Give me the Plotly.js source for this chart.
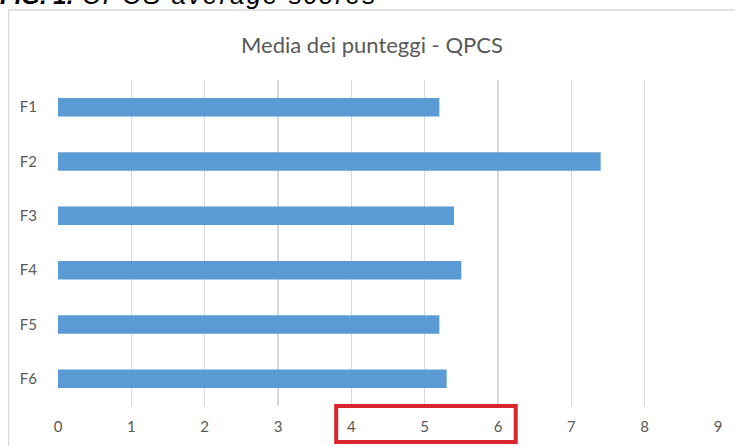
<!DOCTYPE html>
<html>
<head>
<meta charset="utf-8">
<script src="https://cdn.plot.ly/plotly-3.0.1.min.js"></script>
<style>
  html, body { margin: 0; padding: 0; background: #ffffff; overflow: hidden; }
  #wrap { position: relative; width: 735px; height: 446px; }
  #chart { position: absolute; left: 0; top: 0; width: 735px; height: 446px; }
  #caption {
    position: absolute; left: 0px; top: -20px; white-space: nowrap;
    font-family: "Liberation Sans", Arial, sans-serif; font-size: 24px;
    font-style: italic; color: #000000;
  }
  #caption b { font-weight: bold; }
  #caption span { font-size: 26px; letter-spacing: 2px; margin-left: 2px; }
</style>
</head>
<body>
<div id="wrap">
  <div id="chart"></div>
  <div id="caption"><b>FIG. 1.</b> <span>CPCS average scores</span></div>
</div>
<script>
// Mean scores per factor (QPCS questionnaire)
const factors = ["F1", "F2", "F3", "F4", "F5", "F6"];
const meanScores = [5.2, 7.4, 5.4, 5.5, 5.2, 5.3];
const xTicks = [0, 1, 2, 3, 4, 5, 6, 7, 8, 9];

const labelFont = { family: "Lato, 'Open Sans', sans-serif", size: 15, color: "#595959" };

const trace = {
  type: "bar",
  orientation: "h",
  y: factors,
  x: meanScores,
  marker: { color: "#5b9bd5", line: { width: 0 } },
  width: 0.34,
  hoverinfo: "skip"
};

const layout = {
  width: 735,
  height: 446,
  margin: { l: 57.5, r: 17, t: 80, b: 40 },
  paper_bgcolor: "#ffffff",
  plot_bgcolor: "#ffffff",
  showlegend: false,
  title: {
    text: "Media dei punteggi - QPCS",
    font: { family: "Lato, 'Open Sans', sans-serif", size: 22, color: "#595959" },
    x: 0.506, xref: "container", xanchor: "center",
    y: 0.898, yref: "container", yanchor: "middle"
  },
  xaxis: {
    range: [0, 9],
    tickvals: xTicks,
    ticktext: xTicks.map(String),
    showgrid: true,
    gridcolor: "#d9d9d9",
    gridwidth: 1.3,
    zeroline: false,
    showline: false,
    ticks: "outside",
    ticklen: 7,
    tickcolor: "rgba(0,0,0,0)",
    tickfont: labelFont,
    fixedrange: true
  },
  yaxis: {
    autorange: "reversed",
    categoryorder: "array",
    categoryarray: factors,
    showgrid: false,
    zeroline: false,
    showline: false,
    ticks: "outside",
    ticklen: 17,
    tickcolor: "rgba(0,0,0,0)",
    tickfont: labelFont,
    fixedrange: true
  },
  shapes: [
    // chart frame
    {
      type: "rect", xref: "paper", yref: "paper",
      x0: -0.0749, x1: 1.03, y0: -0.13, y1: 1.2147,
      line: { color: "#d9d9d9", width: 1.3 }, fillcolor: "rgba(0,0,0,0)"
    },
    // highlight box around ticks 4-6
    {
      type: "rect", xref: "paper", yref: "paper",
      x0: 0.4215, x1: 0.6935, y0: -0.1105, y1: 0.0,
      line: { color: "#d7262e", width: 4 }, fillcolor: "rgba(0,0,0,0)"
    }
  ]
};

Plotly.newPlot("chart", [trace], layout, { displayModeBar: false, staticPlot: true });
</script>
</body>
</html>
